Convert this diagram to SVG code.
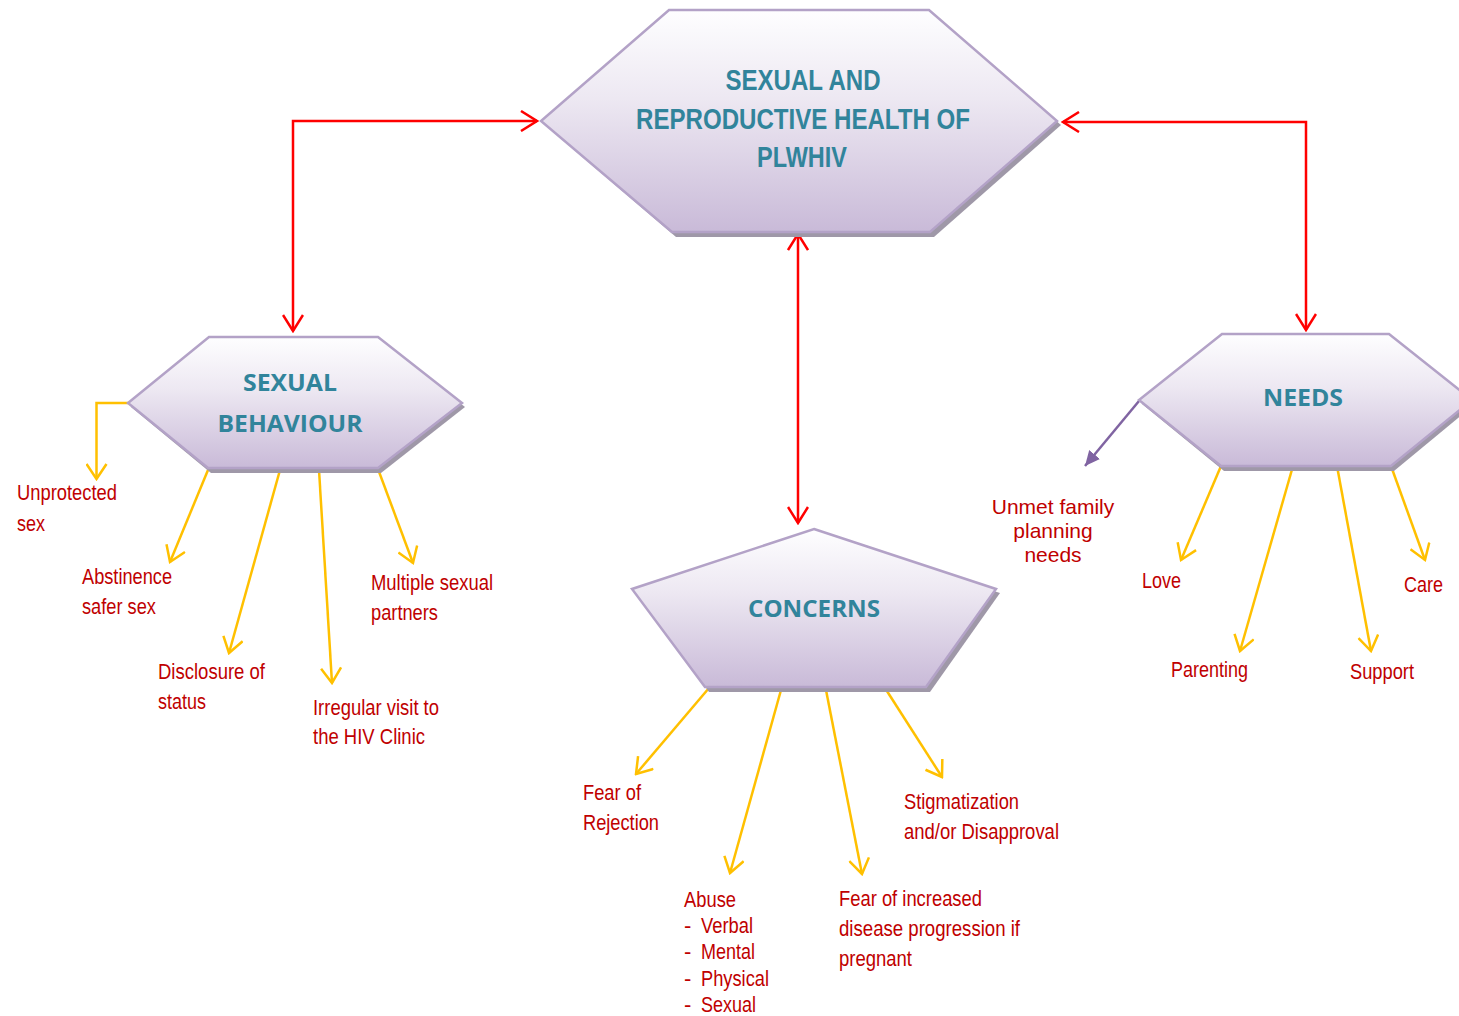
<svg xmlns="http://www.w3.org/2000/svg" width="1459" height="1016" viewBox="0 0 1459 1016">
<defs>
  <linearGradient id="fillGrad" x1="0" y1="0" x2="0" y2="1">
    <stop offset="0" stop-color="#FEFEFF"/>
    <stop offset="0.4" stop-color="#EDE8F2"/>
    <stop offset="1" stop-color="#C9BAD8"/>
  </linearGradient>
  <marker id="redHead" viewBox="0 0 20 22" refX="18" refY="11" markerWidth="20" markerHeight="22" markerUnits="userSpaceOnUse" orient="auto-start-reverse">
    <path d="M2,1 L18,11 L2,21" fill="none" stroke="#FF0000" stroke-width="2.5"/>
  </marker>
  <marker id="yelHead" viewBox="0 0 18 22" refX="16" refY="11" markerWidth="18" markerHeight="22" markerUnits="userSpaceOnUse" orient="auto">
    <path d="M1,1 L16,11 L1,21" fill="none" stroke="#FFC000" stroke-width="2.5"/>
  </marker>
  <marker id="purHead" viewBox="0 0 16 16" refX="15" refY="8" markerWidth="16" markerHeight="16" markerUnits="userSpaceOnUse" orient="auto">
    <path d="M0,1 L15,8 L0,15 Z" fill="#8064A2"/>
  </marker>
</defs>
<style>
  .shadow { fill: #9F98A8; }
  .shape { fill: url(#fillGrad); stroke: #B3A2C7; stroke-width: 2.5; stroke-linejoin: miter; }
  .title { font-family: "Liberation Sans", Arial, sans-serif; font-weight: bold; fill: #31849B; font-size: 29px; text-anchor: middle; }
  .head { font-family: "Open Sans", "Liberation Sans", sans-serif; font-weight: bold; fill: #31849B; font-size: 24px; text-anchor: middle; }
  .lbl { font-family: "Liberation Sans", Arial, sans-serif; fill: #C00000; font-size: 22px; }
  .lbl2 { font-family: "Liberation Sans", Arial, sans-serif; fill: #C00000; font-size: 21px; text-anchor: middle; }
  .red { fill: none; stroke: #FF0000; stroke-width: 2.5; }
  .yel { fill: none; stroke: #FFC000; stroke-width: 2.5; }
  .pur { fill: none; stroke: #8064A2; stroke-width: 2.5; }
</style>
<rect width="1459" height="1016" fill="#FFFFFF"/>

<g id="connectors">
  <path class="red" d="M537,121 H293 V331" marker-start="url(#redHead)" marker-end="url(#redHead)"/>
  <path class="red" d="M1063,122 H1306 V330" marker-start="url(#redHead)" marker-end="url(#redHead)"/>
  <path class="red" d="M798,234 V523" marker-start="url(#redHead)" marker-end="url(#redHead)"/>

  <path class="yel" d="M128,403 H96.5 V479" marker-end="url(#yelHead)"/>
  <path class="yel" d="M208,470 L170,562" marker-end="url(#yelHead)"/>
  <path class="yel" d="M280,470 L229,653" marker-end="url(#yelHead)"/>
  <path class="yel" d="M319,470 L332,683" marker-end="url(#yelHead)"/>
  <path class="yel" d="M378,469 L413,563" marker-end="url(#yelHead)"/>

  <path class="yel" d="M709,688 L636,774" marker-end="url(#yelHead)"/>
  <path class="yel" d="M781,690 L730,873" marker-end="url(#yelHead)"/>
  <path class="yel" d="M826,690 L862,874" marker-end="url(#yelHead)"/>
  <path class="yel" d="M885,688 L942,777" marker-end="url(#yelHead)"/>

  <path class="yel" d="M1221,466 L1181,560" marker-end="url(#yelHead)"/>
  <path class="yel" d="M1293,466 L1240,651" marker-end="url(#yelHead)"/>
  <path class="yel" d="M1337,466 L1371,651" marker-end="url(#yelHead)"/>
  <path class="yel" d="M1391,466 L1425,560" marker-end="url(#yelHead)"/>

  <path class="pur" d="M1139,401 L1085,466" marker-end="url(#purHead)"/>
</g>

<g id="node-main">
  <polygon class="shadow" points="672,14 932,14 1061,125 934,237 676,237 545,125"/>
  <polygon class="shape" points="669,10 929,10 1057,121 930,232 672,232 541,121"/>
  <text class="title" x="803" y="90" textLength="155" lengthAdjust="spacingAndGlyphs">SEXUAL AND</text>
  <text class="title" x="803" y="129" textLength="334" lengthAdjust="spacingAndGlyphs">REPRODUCTIVE HEALTH OF</text>
  <text class="title" x="802" y="167" textLength="90" lengthAdjust="spacingAndGlyphs">PLWHIV</text>
</g>

<g id="node-sexual-behaviour">
  <polygon class="shadow" points="212,341 381,341 465,407 381,473 211,473 131,407"/>
  <polygon class="shape" points="209,337 378,337 462,403 378,468 208,468 128,403"/>
  <text class="head" x="290" y="391" textLength="94" lengthAdjust="spacingAndGlyphs">SEXUAL</text>
  <text class="head" x="290" y="432" textLength="145" lengthAdjust="spacingAndGlyphs">BEHAVIOUR</text>
</g>

<g id="node-concerns">
  <polygon class="shadow" points="818,533 1000,593 930,692 709,692 636,593"/>
  <polygon class="shape" points="814,529 996,589 926,687 705,687 632,589"/>
  <text class="head" x="814" y="617" textLength="132" lengthAdjust="spacingAndGlyphs">CONCERNS</text>
</g>

<g id="node-needs">
  <polygon class="shadow" points="1225,338 1392,338 1475,404 1394,471 1224,471 1142,404"/>
  <polygon class="shape" points="1222,334 1389,334 1472,400 1391,466 1221,466 1139,400"/>
  <text class="head" x="1303" y="406" textLength="80" lengthAdjust="spacingAndGlyphs">NEEDS</text>
</g>

<g id="labels-sexual-behaviour">
  <text class="lbl" x="17" y="500" textLength="100" lengthAdjust="spacingAndGlyphs">Unprotected</text>
  <text class="lbl" x="17" y="531" textLength="28" lengthAdjust="spacingAndGlyphs">sex</text>
  <text class="lbl" x="82" y="584" textLength="90" lengthAdjust="spacingAndGlyphs">Abstinence</text>
  <text class="lbl" x="82" y="614" textLength="74" lengthAdjust="spacingAndGlyphs">safer sex</text>
  <text class="lbl" x="158" y="679" textLength="107" lengthAdjust="spacingAndGlyphs">Disclosure of</text>
  <text class="lbl" x="158" y="709" textLength="48" lengthAdjust="spacingAndGlyphs">status</text>
  <text class="lbl" x="313" y="715" textLength="126" lengthAdjust="spacingAndGlyphs">Irregular visit to</text>
  <text class="lbl" x="313" y="744" textLength="112" lengthAdjust="spacingAndGlyphs">the HIV Clinic</text>
  <text class="lbl" x="371" y="590" textLength="122" lengthAdjust="spacingAndGlyphs">Multiple sexual</text>
  <text class="lbl" x="371" y="620" textLength="67" lengthAdjust="spacingAndGlyphs">partners</text>
</g>

<g id="labels-concerns">
  <text class="lbl" x="583" y="800" textLength="58" lengthAdjust="spacingAndGlyphs">Fear of</text>
  <text class="lbl" x="583" y="830" textLength="76" lengthAdjust="spacingAndGlyphs">Rejection</text>
  <text class="lbl" x="684" y="907" textLength="52" lengthAdjust="spacingAndGlyphs">Abuse</text>
  <text class="lbl" x="684" y="933">-</text>
  <text class="lbl" x="701" y="933" textLength="52" lengthAdjust="spacingAndGlyphs">Verbal</text>
  <text class="lbl" x="684" y="959">-</text>
  <text class="lbl" x="701" y="959" textLength="54" lengthAdjust="spacingAndGlyphs">Mental</text>
  <text class="lbl" x="684" y="986">-</text>
  <text class="lbl" x="701" y="986" textLength="68" lengthAdjust="spacingAndGlyphs">Physical</text>
  <text class="lbl" x="684" y="1012">-</text>
  <text class="lbl" x="701" y="1012" textLength="55" lengthAdjust="spacingAndGlyphs">Sexual</text>
  <text class="lbl" x="839" y="906" textLength="143" lengthAdjust="spacingAndGlyphs">Fear of increased</text>
  <text class="lbl" x="839" y="936" textLength="181" lengthAdjust="spacingAndGlyphs">disease progression if</text>
  <text class="lbl" x="839" y="966" textLength="73" lengthAdjust="spacingAndGlyphs">pregnant</text>
  <text class="lbl" x="904" y="809" textLength="115" lengthAdjust="spacingAndGlyphs">Stigmatization</text>
  <text class="lbl" x="904" y="839" textLength="155" lengthAdjust="spacingAndGlyphs">and/or Disapproval</text>
</g>

<g id="labels-needs">
  <text class="lbl2" x="1053" y="514">Unmet family</text>
  <text class="lbl2" x="1053" y="538">planning</text>
  <text class="lbl2" x="1053" y="562">needs</text>
  <text class="lbl" x="1142" y="588" textLength="39" lengthAdjust="spacingAndGlyphs">Love</text>
  <text class="lbl" x="1171" y="677" textLength="77" lengthAdjust="spacingAndGlyphs">Parenting</text>
  <text class="lbl" x="1350" y="679" textLength="64" lengthAdjust="spacingAndGlyphs">Support</text>
  <text class="lbl" x="1404" y="592" textLength="39" lengthAdjust="spacingAndGlyphs">Care</text>
</g>
</svg>
